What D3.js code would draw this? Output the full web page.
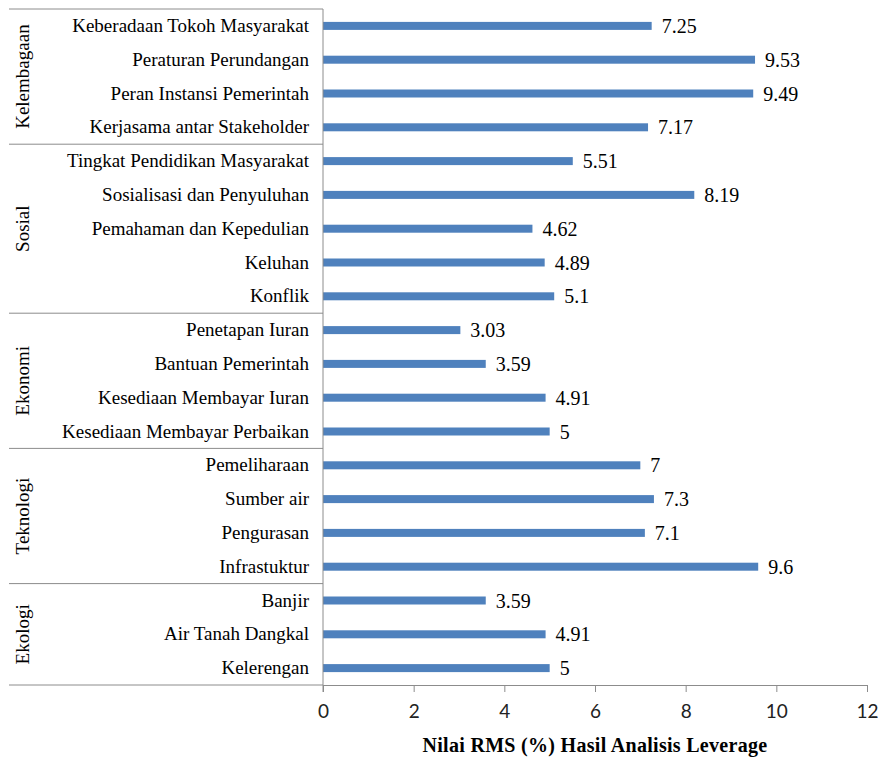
<!DOCTYPE html>
<html>
<head>
<meta charset="utf-8">
<script src="https://cdn.jsdelivr.net/npm/d3@7"></script>
<style>
  body { margin: 0; background: #fff; }
  svg { display: block; }
</style>
</head>
<body>
<svg id="chart" width="878" height="758"></svg>
<script>
// data, top to bottom
var groups = ["Kelembagaan", "Sosial", "Ekonomi", "Teknologi", "Ekologi"];
var groupSizes = [4, 5, 4, 4, 3];
var categories = [
  "Keberadaan Tokoh Masyarakat", "Peraturan Perundangan", "Peran Instansi Pemerintah", "Kerjasama antar Stakeholder",
  "Tingkat Pendidikan Masyarakat", "Sosialisasi dan Penyuluhan", "Pemahaman dan Kepedulian", "Keluhan", "Konflik",
  "Penetapan Iuran", "Bantuan Pemerintah", "Kesediaan Membayar Iuran", "Kesediaan Membayar Perbaikan",
  "Pemeliharaan", "Sumber air", "Pengurasan", "Infrastuktur",
  "Banjir", "Air Tanah Dangkal", "Kelerengan"
];
var values = [7.25, 9.53, 9.49, 7.17, 5.51, 8.19, 4.62, 4.89, 5.1, 3.03, 3.59, 4.91, 5, 7, 7.3, 7.1, 9.6, 3.59, 4.91, 5];
var xTicks = [0, 2, 4, 6, 8, 10, 12];
var xTitle = "Nilai RMS (%) Hasil Analisis Leverage";

var svg = d3.select("#chart");
var margin = { top: 9, left: 323, right: 12, bottom: 73 };
var width = +svg.attr("width"), height = +svg.attr("height");
var plotBottom = height - margin.bottom;
var serif = "'Liberation Serif', monospace";
var lineColor = "#8c8c8c";

var x = d3.scaleLinear().domain([0, 12]).range([margin.left, 867]);
var y = d3.scaleBand().domain(d3.range(categories.length)).range([margin.top, plotBottom]);

// bars
svg.append("g")
  .selectAll("rect")
  .data(values)
  .enter()
  .append("rect")
  .attr("x", x(0))
  .attr("y", function(d, i) { return y(i) + y.bandwidth() / 2 - 4; })
  .attr("width", function(d) { return x(d) - x(0); })
  .attr("height", 8)
  .attr("fill", "#4f81bd");

// value labels
svg.append("g")
  .selectAll("text")
  .data(values)
  .enter()
  .append("text")
  .attr("x", function(d) { return x(d) + 10; })
  .attr("y", function(d, i) { return y(i) + y.bandwidth() / 2 + 7; })
  .style("font-family", serif)
  .style("font-size", "20px")
  .attr("fill", "#000")
  .text(function(d) { return String(d); });

// x axis
var xAxis = svg.append("g")
  .attr("transform", "translate(0," + plotBottom + ")")
  .call(d3.axisBottom(x).tickValues(xTicks).tickSize(7).tickPadding(13));
xAxis.select(".domain").attr("stroke", lineColor);
xAxis.selectAll(".tick line").attr("stroke", lineColor);
xAxis.selectAll(".tick text")
  .attr("font-family", null)
  .style("font-family", "Lato, 'Open Sans', sans-serif")
  .style("font-size", "19px")
  .attr("fill", "#222");

// vertical category axis line (runs down to the tick length)
svg.append("line")
  .attr("x1", x(0)).attr("x2", x(0))
  .attr("y1", margin.top).attr("y2", plotBottom + 7)
  .attr("stroke", lineColor);

// category labels
svg.append("g")
  .selectAll("text")
  .data(categories)
  .enter()
  .append("text")
  .attr("x", 309)
  .attr("y", function(d, i) { return y(i) + y.bandwidth() / 2 + 6; })
  .attr("text-anchor", "end")
  .style("font-family", serif)
  .style("font-size", "19px")
  .text(function(d) { return d; });

// group separators and group labels
var starts = [0];
groupSizes.forEach(function(n, i) { starts.push(starts[i] + n); });

svg.append("g")
  .selectAll("line")
  .data(starts)
  .enter()
  .append("line")
  .attr("x1", 9).attr("x2", x(0))
  .attr("y1", function(s) { return s < categories.length ? y(s) : plotBottom; })
  .attr("y2", function(s) { return s < categories.length ? y(s) : plotBottom; })
  .attr("stroke", lineColor);

svg.append("g")
  .selectAll("text")
  .data(groups)
  .enter()
  .append("text")
  .attr("transform", function(d, i) {
    var top = y(starts[i]);
    var bottom = starts[i + 1] < categories.length ? y(starts[i + 1]) : plotBottom;
    return "translate(29," + (top + bottom) / 2 + ") rotate(-90)";
  })
  .attr("text-anchor", "middle")
  .style("font-family", serif)
  .style("font-size", "19px")
  .text(function(d) { return d; });

// axis title
svg.append("text")
  .attr("x", (x(0) + x(12)) / 2)
  .attr("y", 752)
  .attr("text-anchor", "middle")
  .style("font-family", serif)
  .style("font-size", "20px")
  .style("font-weight", "bold")
  .style("letter-spacing", "0.3px")
  .text(xTitle);
</script>
</body>
</html>
